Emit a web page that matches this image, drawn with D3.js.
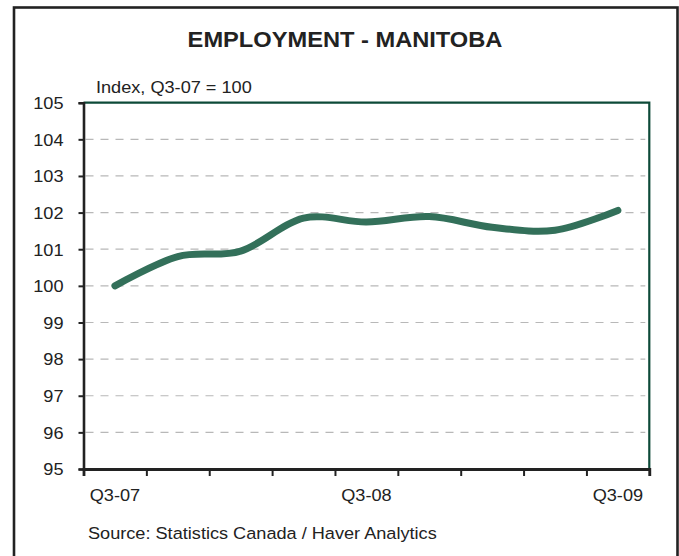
<!DOCTYPE html>
<html>
<head>
<meta charset="utf-8">
<script src="https://cdn.jsdelivr.net/npm/d3@7"></script>
<style>
  html, body { margin: 0; padding: 0; background: #fff; }
  svg { display: block; font-family: "Liberation Sans", Arial, Helvetica, sans-serif; }
</style>
</head>
<body>
<svg id="chart" width="679" height="556"></svg>
<script>
// Quarterly employment index for Manitoba (Q3-07 = 100)
const quarters = ["Q3-07", "Q4-07", "Q1-08", "Q2-08", "Q3-08", "Q4-08", "Q1-09", "Q2-09", "Q3-09"];
const employment = [100, 100.8, 100.95, 101.85, 101.74, 101.89, 101.6, 101.52, 102.06];
const yTicks = [95, 96, 97, 98, 99, 100, 101, 102, 103, 104, 105];
const xLabels = ["Q3-07", "Q3-08", "Q3-09"];

const title = "EMPLOYMENT - MANITOBA";
const unitLabel = "Index, Q3-07 = 100";
const sourceNote = "Source: Statistics Canada / Haver Analytics";

const W = 679, H = 556;
const plot = { left: 83.5, right: 649.3, top: 102.7, bottom: 469 };
const stretch = 1.1;       // horizontal widening applied to all text
const ink = "#222";
const lineGreen = "#33705a";
const frameGreen = "#0d4a38";

const svg = d3.select("#chart");

// outer frame
svg.append("rect")
  .attr("x", 14).attr("y", 7.5)
  .attr("width", 663.5).attr("height", 560)
  .attr("fill", "none").attr("stroke", ink).attr("stroke-width", 2.6);

const x = d3.scaleBand().domain(quarters).range([plot.left, plot.right]).paddingInner(0).paddingOuter(0);
const xEdges = d3.scaleLinear().domain([0, quarters.length]).range([plot.left, plot.right]);
const y = d3.scaleLinear().domain([95, 105]).range([plot.bottom, plot.top]);

// dashed gridlines
svg.append("g")
  .selectAll("line")
  .data(yTicks.filter(t => t > 95 && t < 105))
  .join("line")
  .attr("x1", plot.left + 2).attr("x2", plot.right - 4)
  .attr("y1", d => y(d)).attr("y2", d => y(d))
  .attr("stroke", "#b8b8b8").attr("stroke-width", 1.2)
  .attr("stroke-dasharray", "8,7");

// top and right frame of the plot area
svg.append("path")
  .attr("d", `M${plot.left},${plot.top}H${plot.right}V${plot.bottom}`)
  .attr("fill", "none").attr("stroke", frameGreen).attr("stroke-width", 2.2);

// y axis
const yAxis = svg.append("g")
  .attr("transform", `translate(${plot.left},0)`)
  .call(d3.axisLeft(y).tickValues(yTicks).tickSize(5).tickFormat(d3.format("d")));
yAxis.select(".domain").attr("stroke", ink).attr("stroke-width", 2.6);
yAxis.selectAll(".tick line").attr("stroke", ink).attr("stroke-width", 2);
yAxis.selectAll(".tick text")
  .attr("x", 0).attr("dy", "0.35em")
  .attr("transform", `translate(-20,0) scale(${stretch},1)`)
  .attr("fill", ink).style("font-size", "16.5px")
  .style("font-family", "'Liberation Sans', Arial, sans-serif");

// x axis: quarter boundary ticks
const xTickAxis = svg.append("g")
  .attr("transform", `translate(0,${plot.bottom})`)
  .call(d3.axisBottom(xEdges).tickValues(d3.range(quarters.length + 1)).tickSize(7).tickFormat(""));
xTickAxis.select(".domain").attr("stroke", ink).attr("stroke-width", 2.8);
xTickAxis.selectAll(".tick line").attr("stroke", ink).attr("stroke-width", 2);

// x axis: labels centred on their quarter
const xLabelAxis = svg.append("g")
  .attr("transform", `translate(0,${plot.bottom})`)
  .call(d3.axisBottom(x).tickValues(xLabels).tickSize(0));
xLabelAxis.select(".domain").remove();
xLabelAxis.selectAll(".tick text")
  .attr("y", 0).attr("dy", 0)
  .attr("transform", `translate(0,32) scale(${stretch},1)`)
  .attr("fill", ink).style("font-size", "16.5px")
  .style("font-family", "'Liberation Sans', Arial, sans-serif");

// employment line
const line = d3.line()
  .x((d, i) => x(quarters[i]) + x.bandwidth() / 2)
  .y(d => y(d))
  .curve(d3.curveCardinal.tension(0));

svg.append("path")
  .datum(employment)
  .attr("d", line)
  .attr("fill", "none")
  .attr("stroke", lineGreen)
  .attr("stroke-width", 7)
  .attr("stroke-linecap", "round")
  .attr("stroke-linejoin", "round");

// texts
function addText(str, tx, ty, size, weight, anchor) {
  svg.append("text")
    .attr("transform", `translate(${tx},${ty}) scale(${stretch},1)`)
    .attr("text-anchor", anchor)
    .attr("fill", ink)
    .style("font-size", size + "px")
    .style("font-weight", weight)
    .text(str);
}
addText(title, 345, 47, 21.5, "bold", "middle");
addText(unitLabel, 96, 93, 16.5, "normal", "start");
addText(sourceNote, 88, 539, 16.5, "normal", "start");
</script>
</body>
</html>
